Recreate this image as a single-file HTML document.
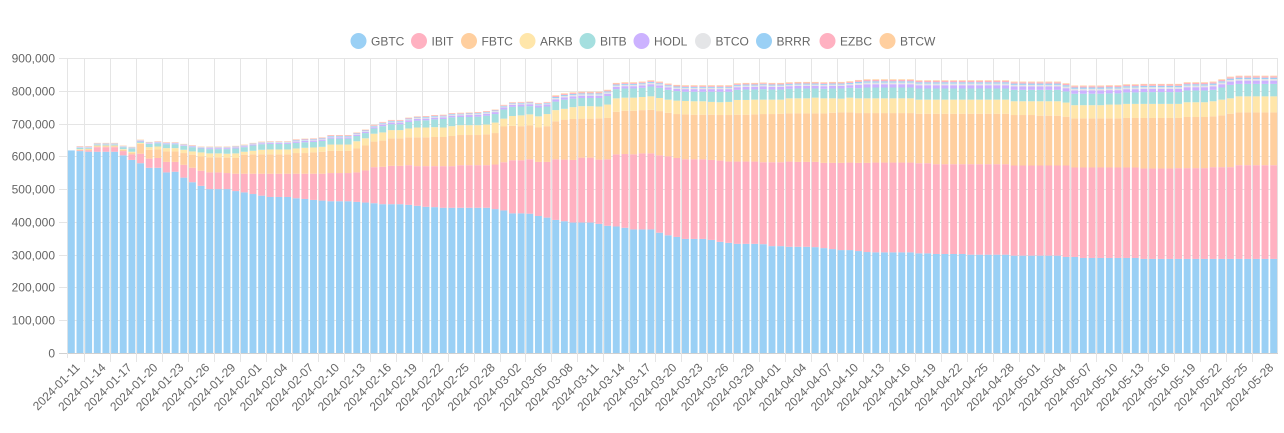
<!DOCTYPE html>
<html><head><meta charset="utf-8"><style>
html,body{margin:0;padding:0;background:#fff;}
svg{display:block;font-family:"Liberation Sans",Arial,sans-serif;}
</style></head><body>
<svg id="chart" width="1284" height="433" viewBox="0 0 1284 433" xmlns="http://www.w3.org/2000/svg">
<g id="grid"></g>
<g id="bars"></g>
<g id="yaxis"></g>
<g id="xaxis"></g>
<g id="legend"></g>
</svg>
<script>
const seriesNames = ["GBTC","IBIT","FBTC","ARKB","BITB","HODL","BTCO","BRRR","EZBC","BTCW"];
const seriesColors = ["#9ad0f5","#ffb1c1","#ffcf9f","#ffe6aa","#a5dfdf","#ccb2ff","#e4e5e7","#9ad0f5","#ffb1c1","#ffcf9f"];
const yTicks = [0,100000,200000,300000,400000,500000,600000,700000,800000,900000];
const startDate = "2024-01-11";
const dayCount = 140;
const dates = [];
(function(){const d0=new Date(startDate+"T00:00:00Z");for(let i=0;i<dayCount;i++){const d=new Date(d0.getTime()+i*86400000);dates.push(d.toISOString().slice(0,10));}})();

// values in thousands of BTC
const GBTC = [618,616,614,614,614,614,603,589,579,565,
565,551,553,535,521,510,500,500,500,494,
490,485,480,476,476,476,472,470,467,465,
463,463,463,461,459,457,454,454,454,
452,449,446,445,443,443,443,443,443,443,
439,435,426,426,425,418,413,406,402,398,
398,398,394,388,386,382,377,377,377,367,
359,354,348,348,348,345,339,336,333,333,
333,332,326,326,324,324,324,323,320,317,
314,314,311,308,307,307,307,307,307,304,
304,302,302,302,302,300,300,300,300,
300,297,297,297,297,297,297,293,293,290,
290,290,290,290,290,290,287,287,287,287,
287,287,287,287,287,287,287,287,287,287,
287,287];
const IBIT = [0,2,4,14,14,14,13,17,29,28,
30,32,30,39,44,46,51,51,49,53,
57,62,67,71,71,71,75,77,80,82,
86,86,86,90,98,110,114,117,117,
121,121,124,125,127,127,130,130,130,130,
136,147,162,162,166,165,170,185,188,191,
198,198,196,203,220,225,229,232,232,236,
241,241,243,243,243,244,248,248,251,251,
251,250,256,256,260,259,259,260,260,263,
266,267,269,272,274,274,274,274,274,275,
275,274,274,274,274,276,276,276,276,
276,275,275,275,275,275,275,279,273,276,
276,276,276,276,276,276,276,276,276,276,
277,277,277,277,280,280,280,286,286,286,
286,286];
const FBTC = [0,2,3,3,3,3,4,4,30,27,
26,32,32,36,40,44,46,46,47,48,
58,59,59,59,59,59,63,63,65,67,
68,68,68,73,76,78,80,84,84,
85,88,88,89,89,92,92,92,92,94,
96,109,105,104,103,105,109,116,122,125,
119,119,126,126,130,132,133,132,133,135,
133,134,137,136,136,138,139,142,143,143,
144,147,147,148,147,148,148,148,151,153,
154,153,152,152,151,151,151,151,151,151,
151,154,154,154,154,154,154,154,154,
154,154,154,154,152,152,152,149,150,150,
150,150,150,150,151,151,154,154,154,154,
153,156,156,156,155,158,163,161,161,161,
161,161];
const ARKB = [0,2,2,2,2,2,2,4,3,8,
9,10,10,10,10,12,12,12,12,14,
9,11,14,15,15,15,14,16,15,15,
19,19,19,22,22,24,25,25,25,
27,30,30,30,29,30,30,30,30,30,
32,24,30,33,34,34,37,34,33,36,
38,38,36,41,41,40,40,40,41,40,
40,41,41,41,41,39,39,40,45,45,
45,44,44,43,46,46,46,48,46,44,
42,45,45,45,45,45,45,45,45,43,
43,43,43,43,43,43,43,43,43,
43,42,42,42,44,44,44,43,40,40,
40,40,42,42,43,43,43,43,43,43,
43,45,45,45,46,48,47,49,49,49,
49,49];
const BITB = [0,4,3,3,3,3,6,10,4,10,
10,12,12,12,13,12,13,13,14,15,
14,16,17,17,17,17,17,17,17,18,
18,18,18,16,16,16,19,18,18,
20,21,22,24,26,27,25,25,26,27,
26,28,28,27,25,27,23,26,28,26,
25,25,26,26,28,28,28,28,30,31,
30,29,28,29,29,31,32,31,31,32,
31,32,31,31,29,30,30,28,29,30,
31,30,31,33,33,33,33,33,33,34,
34,34,34,34,34,34,34,34,34,
34,35,35,35,35,35,35,34,35,35,
35,35,34,34,35,35,36,36,36,36,
36,36,36,36,35,37,41,38,38,38,
38,38];
const HODL = [0,1,1,1,1,1,1,1,2,2,
2,2,2,2,2,2,3,3,3,3,
3,3,3,3,3,3,4,4,4,4,
4,4,4,4,4,4,5,5,5,5,
5,5,5,5,5,5,6,6,6,6,
6,6,6,6,6,6,7,7,7,7,
7,7,7,7,7,7,7,7,7,7,
7,8,8,8,8,8,8,8,8,8,
8,8,8,8,8,8,8,8,8,8,
8,10,10,10,10,10,10,10,10,10,
10,10,10,10,10,10,10,10,10,10,
10,10,10,10,10,10,10,10,10,10,
10,10,10,10,10,10,10,10,10,10,
10,10,10,10,10,10,10,10,10,10];
const BTCO = [0,1,1,1,1,1,1,1,1,1,
1,1,1,1,1,1,2,2,2,2,
2,2,2,2,2,2,2,2,2,2,
2,2,2,2,2,2,3,3,3,3,
3,3,3,3,3,3,3,3,3,3,
3,3,3,3,3,3,4,4,4,4,
4,4,4,4,4,4,4,4,4,4,
4,4,4,4,4,4,4,4,4,4,
4,4,4,4,4,4,4,4,4,4,
4,5,5,5,5,5,5,5,5,5,
5,5,5,5,5,5,5,5,5,5,
5,5,5,5,5,5,5,5,5,5,
5,5,5,5,5,5,5,5,5,5,
5,5,5,5,5,5,5,5,5,5];
const BRRR = [0,1,1,1,1,1,1,1,1,1,
1,1,1,1,1,1,1,1,1,1,
1,1,1,1,1,1,2,2,2,2,
2,2,2,2,2,2,2,2,2,2,
2,2,2,2,2,2,2,2,2,2,
2,2,2,2,2,2,3,3,3,3,
3,3,3,3,3,3,3,3,3,3,
3,3,3,3,3,3,3,3,3,3,
3,3,3,3,3,3,3,3,3,3,
3,4,4,4,4,4,4,4,4,4,
4,4,4,4,4,4,4,4,4,4,
4,4,4,4,4,4,4,4,4,4,
4,4,4,4,4,4,4,4,4,4,
4,4,4,4,4,4,4,4,4,4];
const EZBC = [0,1,1,1,1,1,1,1,1,1,
1,1,1,1,1,1,1,1,1,1,
1,1,1,1,1,1,2,2,2,2,
2,2,2,2,2,2,2,2,2,2,
2,2,2,2,2,2,2,2,2,2,
2,2,2,2,2,2,3,3,3,3,
3,3,3,3,3,3,3,3,3,3,
3,3,3,3,3,3,3,3,3,3,
3,3,3,3,3,3,3,3,3,3,
3,4,4,4,4,4,4,4,4,4,
4,4,4,4,4,4,4,4,4,4,
4,4,4,4,4,4,4,4,4,4,
4,4,4,4,4,4,4,4,4,4,
4,4,4,4,4,4,4,4,4,4];
const BTCW = [0,1,1,1,1,1,1,1,1,1,
1,1,1,1,1,1,1,1,1,1,
1,1,1,1,1,1,1,1,1,1,
1,1,1,1,1,1,1,1,1,1,
1,1,1,1,1,1,1,1,1,1,
1,1,1,1,1,1,2,2,2,2,
2,2,2,2,2,2,2,2,2,2,
2,2,2,2,2,2,2,2,2,2,
2,2,2,2,2,2,2,2,2,2,
2,2,2,2,2,2,2,2,2,2,
2,2,2,2,2,2,2,2,2,2,
2,2,2,2,2,2,2,2,2,2,
2,2,2,2,2,2,2,2,2,2,
2,2,2,2,2,2,2,2,2,2];
const seriesData = [GBTC,IBIT,FBTC,ARKB,BITB,HODL,BTCO,BRRR,EZBC,BTCW];
const valueUnit = 1000;

const NS="http://www.w3.org/2000/svg";
const L=67,R=1278,T=58,B=353,yMax=900000;
const n=dates.length, slot=(R-L)/n;
function yScale(v){return B-(v/yMax)*(B-T);}
function xCenter(i){return L+slot*(i+0.5);}
function mk(tag,attrs,parent){const e=document.createElementNS(NS,tag);for(const k in attrs)e.setAttribute(k,attrs[k]);parent.appendChild(e);return e;}
const grid=document.getElementById('grid'),bars=document.getElementById('bars'),yaxis=document.getElementById('yaxis'),xaxis=document.getElementById('xaxis'),legend=document.getElementById('legend');

yTicks.forEach(function(t){
  const y=Math.round(yScale(t))+0.5;
  const ln=mk('line',{x1:59,x2:R,y1:y,y2:y,stroke:t===0?'#d0d0d0':'#e5e5e5','stroke-width':1},grid);
  
  
  const tx=mk('text',{x:55,y:y+4,'text-anchor':'end','font-size':12,fill:'#666'},yaxis);
  tx.textContent=t.toLocaleString('en-US');
  
  
});
// vertical grid
{const l0=mk('line',{x1:L+0.5,x2:L+0.5,y1:T,y2:B+5,stroke:'#e5e5e5'},grid);

}
for(let i=2;i<n;i+=3){
  const x=Math.round(L+slot*i)+0.5;
  const ln=mk('line',{x1:x,x2:x,y1:T,y2:B+9,stroke:'#e5e5e5'},grid);
  
  
}
{const lr=mk('line',{x1:R-0.5,x2:R-0.5,y1:T,y2:B,stroke:'#e5e5e5'},grid);

}

const bw=slot*0.8;
for(let i=0;i<n;i++){
  let acc=0;
  for(let s=0;s<seriesData.length;s++){
    const v=(seriesData[s][i]||0)*valueUnit;
    if(v<=0)continue;
    const y1=yScale(acc), y2=yScale(acc+v);
    const r=mk('rect',{x:(xCenter(i)-bw/2).toFixed(2),y:y2.toFixed(2),width:bw.toFixed(2),height:(y1-y2).toFixed(2),fill:seriesColors[s]},bars);
    
    
    acc+=v;
  }
}
for(let i=0;i<n;i+=3){
  const x=xCenter(i)+3, y=362;
  const tx=mk('text',{x:x,y:y,'text-anchor':'end','font-size':12,fill:'#666',transform:'rotate(-45 '+x+' '+y+')','dominant-baseline':'hanging'},xaxis);
  tx.textContent=dates[i];
  
  
}
const legendX=[358.5,419,469,527.5,587.5,641.5,703,764,827.5,887.5];
seriesNames.forEach(function(nm,s){
  const g=mk('g',{},legend);
  
  
  mk('circle',{cx:legendX[s],cy:41,r:8,fill:seriesColors[s]},g);
  const t=mk('text',{x:legendX[s]+12.5,y:45.5,'font-size':12,fill:'#666'},g);
  t.textContent=nm;
});
</script>
</body></html>
